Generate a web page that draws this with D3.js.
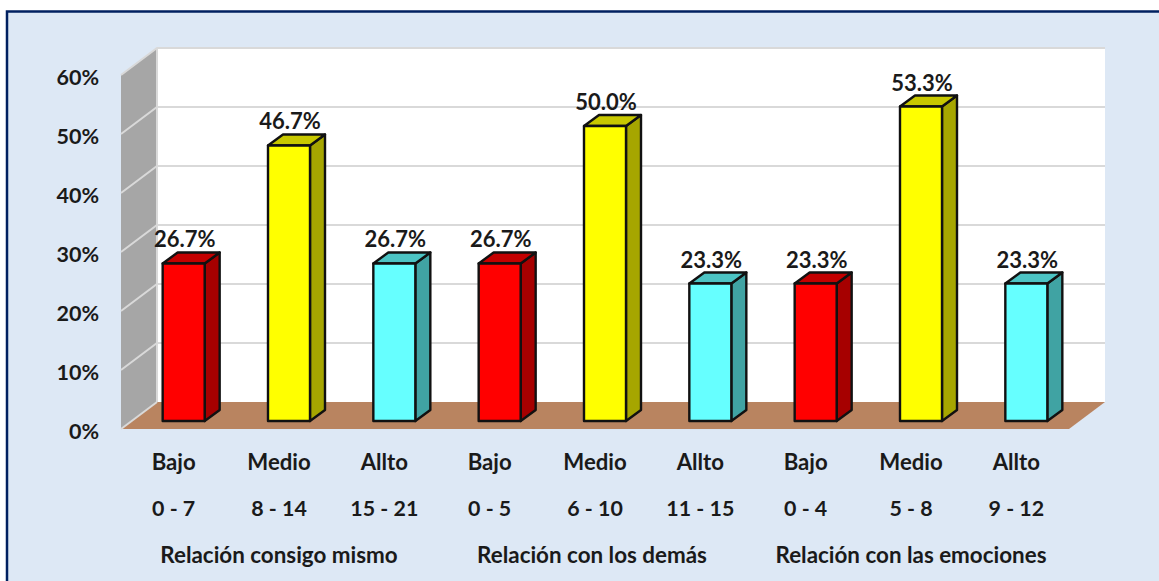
<!DOCTYPE html>
<html><head><meta charset="utf-8">
<script src="https://cdn.jsdelivr.net/npm/d3@7/dist/d3.min.js"></script>
<style>
html,body{margin:0;padding:0;background:#fff;overflow:hidden}
svg{display:block}
text{font-family:Lato,sans-serif;font-weight:700;fill:#1a1a1a}
</style></head><body>
<svg id="c" width="1159" height="581"></svg>
<script>
const tiers = ["Bajo","Medio","Allto","Bajo","Medio","Allto","Bajo","Medio","Allto"];
const ranges = ["0 - 7","8 - 14","15 - 21","0 - 5","6 - 10","11 - 15","0 - 4","5 - 8","9 - 12"];
const groups = ["Relación consigo mismo","Relación con los demás","Relación con las emociones"];
const values = [26.7,46.7,26.7,26.7,50.0,23.3,23.3,53.3,23.3];
const yTicks = [0,10,20,30,40,50,60];
const faceColors = ["#ff0000","#ffff00","#66ffff"];
const sideColors = ["#a60000","#a6a600","#40a3a3"];
const topColors  = ["#c40000","#c8c800","#4cc4c4"];

const svg = d3.select("#c");
const W = 1159, H = 581;
const frontL = 121, frontR = 1069, floorY = 429, wallDx = 36, wallDy = 27;
const idx = d3.range(values.length);
const x = d3.scaleBand().domain(idx).range([frontL, frontR]);
const gx = d3.scaleBand().domain(d3.range(groups.length)).range([frontL, frontR]);
const y = d3.scaleLinear().domain([0,60]).range([floorY, floorY-354]);
const poly = pts => pts.map(p=>p.join(",")).join(" ");

// frame
svg.append("rect").attr("x",7).attr("y",11.5).attr("width",W+20).attr("height",H+20)
  .attr("fill","#dde8f5").attr("stroke","#002060").attr("stroke-width",2.5);

// back wall, side wall, floor
svg.append("rect").attr("x",frontL+wallDx).attr("y",y(60)-wallDy).attr("width",frontR-frontL).attr("height",354)
  .attr("fill","#fff");
svg.append("polygon").attr("points",poly([[frontL,y(0)],[frontL,y(60)],[frontL+wallDx,y(60)-wallDy],[frontL+wallDx,y(0)-wallDy]]))
  .attr("fill","#a6a6a6");
svg.append("polygon").attr("points",poly([[frontL,y(0)],[frontR,y(0)],[frontR+wallDx,y(0)-wallDy],[frontL+wallDx,y(0)-wallDy]]))
  .attr("fill","#b98460");

// gridlines
const grid = svg.append("g").attr("fill","none").attr("stroke","#d9d9d9").attr("stroke-width",2);
yTicks.forEach(t=>{
  grid.append("polyline").attr("points",poly(
    t===0 ? [[frontL,y(t)],[frontL+wallDx,y(t)-wallDy]]
          : [[frontL,y(t)],[frontL+wallDx,y(t)-wallDy],[frontR+wallDx,y(t)-wallDy]]));
});
grid.append("line").attr("x1",frontL+wallDx).attr("x2",frontL+wallDx).attr("y1",y(60)-wallDy).attr("y2",y(0)-wallDy);

// bars
const barW = 42, nearDx = 10, nearDy = 8, depthX = 15, depthY = 11;
const bars = svg.selectAll("g.bar").data(idx).join("g").attr("class","bar")
  .attr("stroke","#111").attr("stroke-width",2.4).attr("stroke-linejoin","round");
const bx = i => x(i)+x.bandwidth()/2+nearDx-barW/2;
const by0 = floorY-nearDy;
const by = i => by0-(floorY-y(values[i]));
bars.append("polygon").attr("fill",i=>sideColors[i%3]).attr("points",i=>poly([
  [bx(i)+barW,by(i)],[bx(i)+barW+depthX,by(i)-depthY],[bx(i)+barW+depthX,by0-depthY],[bx(i)+barW,by0]]));
bars.append("polygon").attr("fill",i=>topColors[i%3]).attr("points",i=>poly([
  [bx(i),by(i)],[bx(i)+depthX,by(i)-depthY],[bx(i)+barW+depthX,by(i)-depthY],[bx(i)+barW,by(i)]]));
bars.append("rect").attr("fill",i=>faceColors[i%3]).attr("x",bx).attr("y",by).attr("width",barW).attr("height",i=>by0-by(i));

// value labels
svg.selectAll("text.val").data(idx).join("text").attr("class","val")
  .attr("x",i=>bx(i)+barW/2+1).attr("y",i=>by(i)-16).attr("text-anchor","middle")
  .attr("font-size",22).text(i=>values[i].toFixed(1)+"%");

// y axis
const yAxis = d3.axisLeft(y).tickValues(yTicks).tickSize(0).tickPadding(0).tickFormat(d=>d+"%");
const ya = svg.append("g").attr("transform","translate(99,2.5)").call(yAxis);
ya.select(".domain").remove();
ya.selectAll("text").attr("font-size",21.5).style("font-family","Lato,sans-serif").style("font-weight",700);

// category rows
const rowAxis = (scale, labels, yPos, size) => {
  const a = d3.axisBottom(scale).tickSize(0).tickPadding(0).tickFormat(i=>labels[i]);
  const g = svg.append("g").attr("transform",`translate(0,${yPos})`).call(a);
  g.select(".domain").remove();
  g.selectAll("text").attr("font-size",size).attr("dy",0).attr("y",0).style("font-family","Lato,sans-serif").style("font-weight",700);
  return g;
};
rowAxis(x, tiers, 470, 22.2);
rowAxis(x, ranges, 516, 21.4);
const groupRow = rowAxis(gx, groups, 563, 22.4);
groupRow.selectAll("text").attr("dx",i=>i===1?-3:0);
</script>
</body></html>
